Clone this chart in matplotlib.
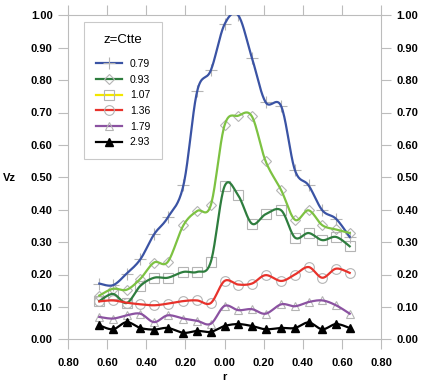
import numpy as np
import matplotlib
matplotlib.use("Agg")
import matplotlib.pyplot as plt
from matplotlib.lines import Line2D
from matplotlib.ticker import FuncFormatter, MultipleLocator

plt.rcParams['font.family'] = ['Liberation Sans', 'DejaVu Sans']

r = [-0.64, -0.57, -0.50, -0.43, -0.36, -0.29, -0.21, -0.14, -0.07, 0.0,
     0.07, 0.14, 0.21, 0.29, 0.36, 0.43, 0.50, 0.57, 0.64]

labels = ["0.79", "0.93", "1.07", "1.36", "1.79", "2.93"]

vz_079 = [0.172, 0.167, 0.203, 0.247, 0.324, 0.376, 0.475, 0.765, 0.830, 0.972,
          1.000, 0.869, 0.732, 0.719, 0.522, 0.475, 0.398, 0.372, 0.316]
vz_093 = [0.135, 0.156, 0.153, 0.187, 0.237, 0.239, 0.352, 0.396, 0.414, 0.660,
          0.690, 0.688, 0.550, 0.460, 0.369, 0.398, 0.352, 0.339, 0.328]
vz_107 = [0.118, 0.140, 0.112, 0.165, 0.190, 0.190, 0.208, 0.208, 0.239, 0.472,
          0.444, 0.357, 0.386, 0.398, 0.314, 0.328, 0.306, 0.316, 0.287]
vz_136 = [0.117, 0.120, 0.113, 0.108, 0.105, 0.110, 0.118, 0.120, 0.112, 0.180,
          0.169, 0.172, 0.198, 0.180, 0.200, 0.223, 0.190, 0.218, 0.205]
vz_179 = [0.069, 0.064, 0.074, 0.079, 0.053, 0.074, 0.064, 0.057, 0.048, 0.103,
          0.090, 0.093, 0.079, 0.108, 0.102, 0.115, 0.120, 0.105, 0.079]
vz_293 = [0.043, 0.031, 0.053, 0.035, 0.030, 0.035, 0.020, 0.026, 0.023, 0.041,
          0.047, 0.041, 0.031, 0.035, 0.035, 0.052, 0.031, 0.047, 0.035]

series = [vz_079, vz_093, vz_107, vz_136, vz_179, vz_293]
line_colors = ["#3a53a4", "#7dc242", "#2e7d3e", "#e8322b", "#8b52a1", "#000000"]
legend_colors = ["#3a53a4", "#2e7d3e", "#f2e600", "#e8322b", "#8b52a1", "#000000"]
markers = ["+", "D", "s", "o", "^", "^"]
msizes = [8, 5, 7, 7, 6, 6]


def smooth(x, y, n=20):
    x = np.asarray(x, float)
    y = np.asarray(y, float)
    px = np.concatenate([[x[0]], x, [x[-1]]])
    py = np.concatenate([[y[0]], y, [y[-1]]])
    xs, ys = [], []
    t = np.linspace(0, 1, n)
    for i in range(1, len(px) - 2):
        p0 = np.array([px[i], py[i]])
        p3 = np.array([px[i + 1], py[i + 1]])
        p1 = p0 + (np.array([px[i + 1], py[i + 1]]) - np.array([px[i - 1], py[i - 1]])) / 6
        p2 = p3 - (np.array([px[i + 2], py[i + 2]]) - np.array([px[i], py[i]])) / 6
        b = ((1 - t) ** 3)[:, None] * p0 + (3 * (1 - t) ** 2 * t)[:, None] * p1 \
            + (3 * (1 - t) * t ** 2)[:, None] * p2 + (t ** 3)[:, None] * p3
        xs.extend(b[:, 0])
        ys.extend(b[:, 1])
    return np.array(xs), np.array(ys)


fig = plt.figure(figsize=(4.25, 3.86), dpi=100)
ax = fig.add_axes([68 / 425, 1 - 339.3 / 386, (381 - 68) / 425, (339.3 - 15.3) / 386])

mk_gray = "#b4b4b4"
for i, (vals, col) in enumerate(zip(series, line_colors)):
    sx, sy = smooth(r, vals)
    ax.plot(sx, sy, color=col, lw=1.6, zorder=3)
    if i == 5:
        ax.plot(r, vals, ls="none", marker="^", ms=6, color="black", zorder=4)
    else:
        ax.plot(r, vals, ls="none", marker=markers[i], ms=msizes[i], mfc="none",
                mec=mk_gray, mew=0.8, zorder=2)

ax.set_xlim(-0.8, 0.8)
ax.set_ylim(0, 1.0)
ax.xaxis.set_major_locator(MultipleLocator(0.2))
ax.yaxis.set_major_locator(MultipleLocator(0.1))
ax.xaxis.set_major_formatter(FuncFormatter(lambda v, p: "%.2f" % abs(v)))
ax.yaxis.set_major_formatter(FuncFormatter(lambda v, p: "%.2f" % v))

for s in ax.spines.values():
    s.set_color("#bcbcbc")
    s.set_linewidth(0.8)
ax.tick_params(axis="both", which="major", direction="out", length=7,
               color="#bcbcbc", width=0.8, labelsize=8, top=True, right=True,
               labelright=True, labeltop=False)
ax.tick_params(axis="x", pad=6.5)
ax.tick_params(axis="y", pad=4)
for t in ax.xaxis.get_major_ticks():
    t.label1.set_fontweight("bold")
for t in ax.yaxis.get_major_ticks():
    t.label1.set_fontweight("bold")
    t.label2.set_fontweight("bold")

fig.text(9 / 425, 1 - 178 / 386, "Vz", fontsize=8, fontweight="bold",
         ha="center", va="center")
fig.text(224.5 / 425, 1 - 377 / 386, "r", fontsize=8, fontweight="bold",
         ha="center", va="center")

handles = []
for i in range(6):
    if i == 5:
        h = Line2D([], [], color="black", lw=1.6, marker="^", ms=6, mfc="black", mec="black")
    else:
        h = Line2D([], [], color=legend_colors[i], lw=1.6, marker=markers[i],
                   ms=msizes[i], mfc="none", mec=mk_gray, mew=0.8)
    handles.append(h)
leg = ax.legend(handles, labels, title="z=Ctte", loc="upper left",
                bbox_to_anchor=((84 - 68) / 313, 1 - (22.3 - 15.3) / 324),
                fontsize=7.5, title_fontsize=9.5, frameon=True, fancybox=False,
                edgecolor="#bcbcbc", handlelength=2.5, handletextpad=0.75,
                labelspacing=0.55, borderpad=1.15, borderaxespad=0)
leg.get_frame().set_linewidth(0.8)
leg._legend_box.align = "center"
leg._legend_box.sep = 9

fig.savefig("out.png", dpi=100)
